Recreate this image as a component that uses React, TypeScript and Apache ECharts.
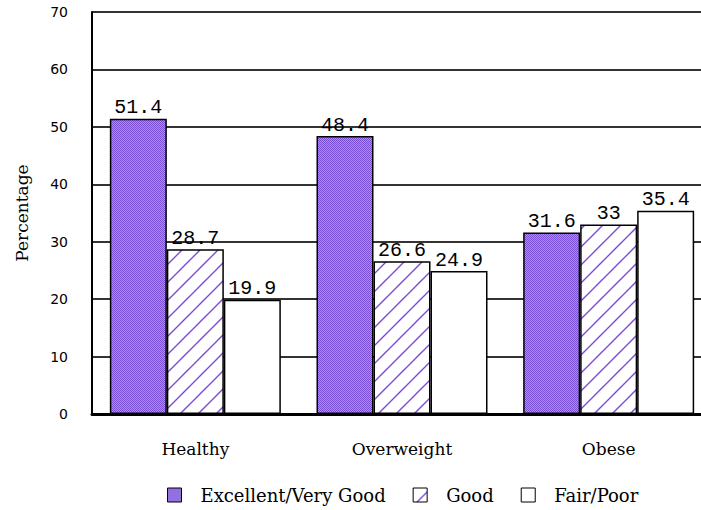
import React, { useEffect, useRef } from "react";
import * as echarts from "echarts";

const categories = ["Healthy", "Overweight", "Obese"];
const seriesNames = ["Excellent/Very Good", "Good", "Fair/Poor"];
const excellent = [51.4, 48.4, 31.6];
const good = [28.7, 26.6, 33];
const fairPoor = [19.9, 24.9, 35.4];
const yTicks = [0, 10, 20, 30, 40, 50, 60, 70];

function makeChecker(): HTMLCanvasElement {
  const c = document.createElement("canvas");
  c.width = 2;
  c.height = 2;
  const ctx = c.getContext("2d")!;
  ctx.fillStyle = "#ac90ee";
  ctx.fillRect(0, 0, 2, 2);
  ctx.fillStyle = "#7a4ed4";
  ctx.fillRect(0, 0, 1, 1);
  ctx.fillRect(1, 1, 1, 1);
  return c;
}

function makeHatch(): HTMLCanvasElement {
  const s = 18;
  const c = document.createElement("canvas");
  c.width = s;
  c.height = s;
  const ctx = c.getContext("2d")!;
  ctx.fillStyle = "#ffffff";
  ctx.fillRect(0, 0, s, s);
  ctx.strokeStyle = "#7a4ad8";
  ctx.lineWidth = 1.4;
  ctx.beginPath();
  ctx.moveTo(-2, s + 2);
  ctx.lineTo(s + 2, -2);
  ctx.moveTo(-2, 2);
  ctx.lineTo(2, -2);
  ctx.moveTo(s - 2, s + 2);
  ctx.lineTo(s + 2, s - 2);
  ctx.stroke();
  return c;
}

export default function App() {
  const ref = useRef<HTMLDivElement>(null);
  useEffect(() => {
    if (!ref.current) return;
    const chart = echarts.init(ref.current, null, { renderer: "svg" });
    const font = "'DejaVu Serif', 'Liberation Serif', serif";
    const numFont = "'Liberation Mono', 'DejaVu Sans Mono', monospace";
    const checker = { image: makeChecker(), repeat: "repeat" };
    const hatch = { image: makeHatch(), repeat: "repeat" };
    const fills: any[] = [checker, hatch, "#ffffff"];
    const datas = [excellent, good, fairPoor];
    chart.setOption({
      animation: false,
      backgroundColor: "transparent",
      textStyle: { fontFamily: font },
      grid: { left: 92, top: 12, width: 620, height: 402, outerBoundsMode: "none", containLabel: false },
      legend: {
        bottom: 6,
        left: 167,
        padding: 0,
        itemWidth: 14,
        itemHeight: 14,
        itemGap: 27,
        icon: "rect",
        textStyle: { fontFamily: font, fontSize: 18, color: "#000", padding: [0, 0, 0, 14] },
        itemStyle: { borderColor: "#000", borderWidth: 1 },
        data: seriesNames,
      },
      xAxis: {
        type: "category",
        data: categories,
        axisLine: { show: true, lineStyle: { color: "#000", width: 3 } },
        axisTick: { show: false },
        axisLabel: { fontFamily: font, fontSize: 17, color: "#000", margin: 26 },
      },
      yAxis: {
        type: "value",
        min: 0,
        max: 70,
        interval: 10,
        name: "Percentage",
        nameLocation: "middle",
        nameGap: 62,
        nameRotate: 90,
        nameTextStyle: { fontFamily: font, fontSize: 17, color: "#000" },
        axisLine: { show: true, lineStyle: { color: "#000", width: 2 } },
        axisTick: { show: false },
        axisLabel: {
          fontFamily: "'DejaVu Sans', sans-serif",
          fontSize: 14,
          color: "#000",
          margin: 24,
          formatter: (v: number) => (yTicks.includes(v) ? String(v) : ""),
        },
        splitLine: { show: true, lineStyle: { color: "#333", width: 2 } },
      },
      series: seriesNames.map((name, i) => ({
        name,
        type: "bar",
        data: datas[i],
        barWidth: 57,
        barGap: "0%",
        itemStyle: { color: fills[i], borderColor: "#000", borderWidth: 1.5 },
        label: {
          show: true,
          position: "top",
          distance: 1,
          fontFamily: numFont,
          fontSize: 20,
          color: "#000",
        },
      })),
    });
    return () => chart.dispose();
  }, []);
  return (
    <div
      ref={ref}
      style={{ position: "fixed", left: 0, top: 0, width: 701, height: 510, background: "#ffffff" }}
    />
  );
}
